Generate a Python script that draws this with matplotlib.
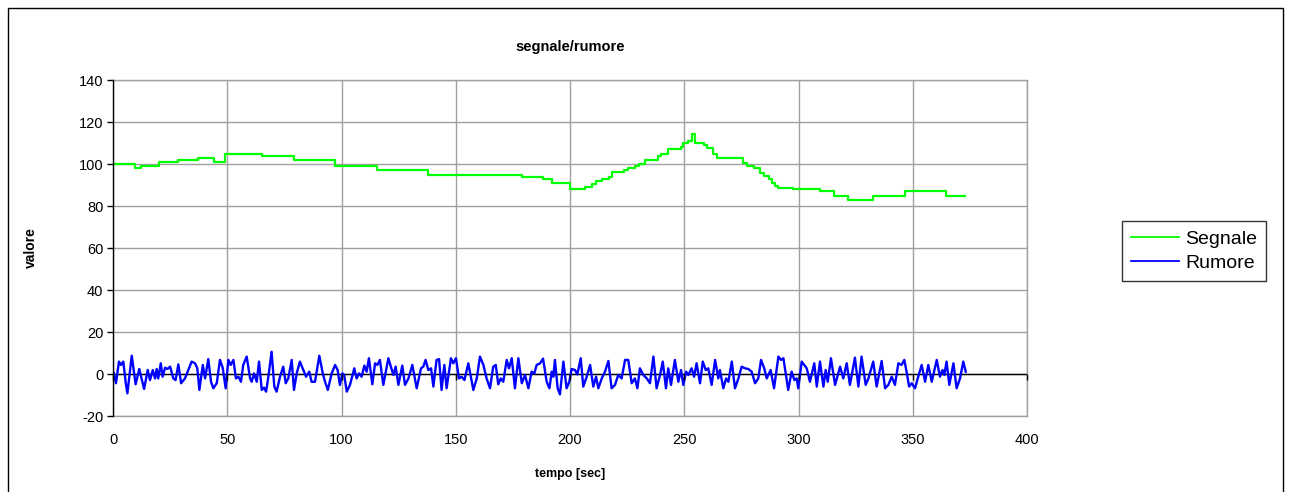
import matplotlib
matplotlib.use("Agg")
import matplotlib.pyplot as plt
from matplotlib.patches import Rectangle

plt.rcParams['font.family'] = ['Liberation Sans', 'DejaVu Sans']
plt.rcParams['axes.unicode_minus'] = False

# ---- data ----
title = "segnale/rumore"
xlabel = "tempo [sec]"
ylabel = "valore"
series_names = ["Segnale", "Rumore"]

sig_t = [0, 9.8, 12.3, 20, 28.3, 37.2, 44, 49, 65.2, 79,
         97.3, 115.5, 138, 178.8, 188.3, 192, 200, 206.6, 209.5, 211.5,
         214, 217, 218.5, 223.5, 225.5, 228.5, 230, 233, 238.5, 240,
         243, 248.5, 249.5, 251.5, 253.5, 254.5, 258.5, 260, 262.5, 264.5,
         275.5, 277.5, 280.5, 283, 285, 287, 288.5, 289.5, 291, 297.5,
         309.5, 315.5, 321.5, 332.5, 346.5, 364.5, 373]
sig_v = [100, 98, 99, 101, 102, 103, 101, 105, 104, 102,
         99, 97, 95, 94, 93, 91, 88, 89, 90.5, 92,
         93, 94, 96, 97, 98, 99, 100, 102, 104, 105,
         107, 108, 110, 111, 114.5, 110, 109, 107.5, 105, 103,
         100.5, 99, 98, 95.5, 94.5, 93, 91, 89.5, 88.7, 88,
         87, 85, 83, 85, 87, 85, 85]

noise_t = [0.4, 1.3, 2.6, 3.5, 4.5, 5.6, 6.3, 8.2, 9.9, 11.5,
           13.6, 15.2, 16.2, 17.4, 18.4, 19.1, 19.8, 20.9, 21.7, 22.8,
           23.8, 25.0, 26.4, 27.4, 28.6, 29.8, 31.5, 34.4, 35.9, 36.9,
           37.8, 39.3, 40.3, 41.7, 42.9, 43.9, 45.4, 46.8, 48.0, 49.3,
           50.5, 51.5, 52.7, 53.8, 54.9, 56.0, 57.0, 58.5, 60.0, 60.7,
           61.7, 62.9, 63.9, 65.1, 66.1, 67.0, 68.1, 69.4, 70.6, 71.6,
           73.1, 74.5, 75.6, 76.7, 78.2, 79.2, 80.4, 81.8, 83.3, 84.5,
           85.9, 86.9, 88.4, 90.3, 91.8, 92.8,
           94.0, 95.7, 97.2, 98.3, 99.3, 100.4, 101.2, 102.3, 103.7, 105.6,
           106.6, 107.7, 108.8, 110.0, 111.0, 112.0, 113.5, 114.7, 115.7, 116.8,
           118.3, 120.5, 122.7, 123.7, 124.9, 126.6, 127.8, 129.3, 131.0, 132.9,
           134.8, 135.8, 136.8, 138.0, 139.2, 140.2, 141.6, 142.7, 143.8, 145.0,
           146.0, 147.9, 148.9, 150.1, 151.4, 152.6, 153.8, 155.5, 157.7, 159.2,
           160.6, 162.1, 163.5, 165.0, 166.4, 167.5, 168.6, 169.7, 170.8, 172.3,
           173.3, 174.5, 175.9, 177.4, 178.9, 180.3, 181.8, 183.2, 184.4, 185.4,
           186.9,
           188.2, 189.8, 191.0, 192.0, 192.7, 193.4, 194.6, 195.6, 197.1, 198.5,
           199.7, 200.7, 202.2, 203.2, 204.7, 205.8, 207.3, 208.8, 210.2, 211.4,
           212.4, 213.9, 215.3, 216.8, 218.2, 219.7, 221.1, 222.6, 224.1, 225.5,
           227.0, 228.4, 229.5, 230.6, 232.1, 233.6, 235.0, 236.5, 237.9, 239.4,
           240.6, 242.0, 243.0, 244.2, 245.9, 247.4, 248.6, 249.6, 250.8, 251.8,
           253.2, 254.3, 255.4, 256.9, 258.1, 259.4, 260.5, 262.0, 263.5, 264.9,
           265.6, 267.1, 268.3, 269.3, 270.8, 272.2, 273.7, 275.1, 276.6, 278.0,
           279.5,
           281.0, 282.4, 283.6, 285.0, 286.1, 287.8, 289.3, 291.2, 292.3, 293.4,
           295.5, 297.0, 298.2, 299.2, 299.9, 301.4, 303.6, 305.0, 306.9, 308.0,
           309.4, 310.9, 311.9, 312.8, 314.2, 316.0, 318.2, 319.6, 321.1, 322.5,
           324.7, 326.2, 327.6, 329.4, 330.6, 332.7, 334.2, 336.4, 337.9, 339.3,
           340.8, 342.2, 343.7, 345.1, 346.3, 347.3, 348.4, 349.5, 351.0, 352.4,
           353.9, 355.4, 356.8, 358.3, 360.5, 361.9, 363.0, 363.8, 364.8, 366.0,
           367.8, 369.2, 370.7, 372.1, 373.2]
noise_v = [0.3, -4.4, 5.9, 4.3, 5.9, -4.4, -9.2, 8.7, -4.9, 2.4,
           -7.1, 1.9, -2.9, 1.9, -2.1, 2.4, -2.1, 5.1, -1.3, 3.0,
           2.4, 3.5, -2.1, -2.9, 4.6, -4.4, -2.1, 5.9, 5.1, 2.7,
           -7.6, 4.3, -2.1, 7.1, -3.7, -6.8, -4.4, 6.7, 3.0, -6.8,
           6.7, 4.3, 6.7, -2.1, -1.3, -3.7, 4.3, 8.3, -2.1, -3.7,
           0.3, -3.7, 5.9, -7.6, -6.5, -8.4, -0.5, 10.6, -6.0, -8.4,
           -1.3, 3.5, -4.4, -2.1, 6.7, -7.6, 0.3, 5.9, 1.9, -1.3,
           1.1, -3.7, -3.7, 8.7, 0.3, -3.7,
           -7.6, 0.3, 4.3, 1.9, -5.2, 0.3, -0.5, -8.4, -5.2, 2.7,
           -2.1, 0.3, -1.3, 4.0, 1.1, 7.5, -4.9, 5.1, 4.3, 6.7,
           -5.2, 7.5, -0.5, 3.5, -5.2, 4.0, -5.2, -2.1, 4.3, -6.8,
           2.7, 3.5, 6.7, 1.9, 2.7, -6.0, 6.7, 7.1, -7.6, 4.3,
           -6.8, 7.5, 5.1, 7.5, -2.1, -1.3, -2.9, 5.1, -7.6, -2.1,
           8.3, 4.3, -2.1, -6.8, 3.5, 4.3, -4.9, -2.1, -3.7, 6.7,
           2.7, 7.5, -6.8, 7.5, -4.4, -0.5, -6.8, 1.1, 0.3, 4.3,
           5.1,
           7.3, -3.7, -6.8, 1.1, -1.3, 6.7, -6.8, -9.7, 5.9, -6.8,
           -3.7, 2.4, 1.9, -0.2, 7.5, -6.0, -1.3, 4.3, -6.0, -1.3,
           -6.8, -2.1, 1.1, 6.2, -6.8, -5.2, -0.5, -2.1, 6.7, 6.7,
           -4.4, -2.1, -6.8, 2.7, -0.5, -2.1, -4.4, 8.3, -6.8, -0.5,
           5.9, -6.8, 2.7, -5.2, 6.7, -3.7, 1.9, -5.2, 1.1, -0.5,
           2.7, -1.3, 5.1, -4.4, 5.9, 1.9, 2.7, -5.2, 6.7, -2.1,
           1.9, -6.8, -2.1, -3.7, 5.9, -6.8, -2.1, 3.5, 2.7, 2.4,
           1.1,
           -4.4, -2.1, 6.7, 2.7, -2.1, 1.9, -6.8, 8.3, 6.7, 7.5,
           -7.6, 1.1, -2.9, -2.1, -6.8, 5.9, 2.7, -3.7, 5.1, -6.0,
           5.9, -6.0, 1.9, -3.7, 7.5, -5.2, 3.5, -2.1, 5.1, -5.2,
           7.8, -6.0, 8.3, -5.2, -2.1, 5.9, -6.0, 6.2, -6.8, -5.2,
           -1.3, -5.2, 5.1, 4.3, 6.7, 1.1, -6.0, -4.4, -6.8, -1.3,
           4.3, -3.7, 4.3, -3.7, 6.7, -1.3, 1.9, -0.5, 5.9, -5.2,
           5.1, -6.8, -2.1, 5.9, 1.1]

x_ticks = [0, 50, 100, 150, 200, 250, 300, 350, 400]
y_ticks = [-20, 0, 20, 40, 60, 80, 100, 120, 140]

# ---- figure ----
W, H = 1289, 492
fig = plt.figure(figsize=(W / 100, H / 100), dpi=100)
ax = fig.add_axes([113 / W, 1 - 416 / H, (1027 - 113) / W, (416 - 80) / H])

ax.plot(sig_t, sig_v, color='#00FF00', lw=1.6, drawstyle='steps-post',
        label=series_names[0], zorder=3)
ax.plot(noise_t, noise_v, color='#0000FF', lw=1.7, label=series_names[1],
        zorder=3, solid_joinstyle='round')

ax.set_xlim(0, 400)
ax.set_ylim(-20, 140)
ax.set_xticks(x_ticks)
ax.set_yticks(y_ticks)
ax.grid(True, color='#a0a0a0', lw=1)
ax.set_axisbelow(True)

for s in ['top', 'right', 'bottom']:
    ax.spines[s].set_color('#a0a0a0')
    ax.spines[s].set_linewidth(1)
ax.spines['left'].set_color('black')
ax.spines['left'].set_linewidth(1)
ax.spines['left'].set_zorder(5)

ax.tick_params(axis='x', length=0, pad=12, labelsize=10.5)
ax.tick_params(axis='y', length=4, width=1, direction='out', pad=3, labelsize=10.5)

# zero-crossing category axis (black line with tick marks)
ax.axhline(0, color='black', lw=1, zorder=2.5)
sec = ax.secondary_xaxis(20 / 160)
sec.set_xticks(x_ticks)
sec.set_xticklabels([])
sec.tick_params(axis='x', length=4, width=1, direction='out', color='black')
sec.spines['bottom'].set_visible(False)
sec.spines['top'].set_visible(False)
sec.set_zorder(4)

fig.text(570 / W, 1 - 47 / H, title, ha='center', va='center',
         fontsize=10.5, fontweight='bold')
fig.text(570 / W, 1 - 474 / H, xlabel, ha='center', va='center',
         fontsize=9, fontweight='bold')
fig.text(31 / W, 1 - 248 / H, ylabel, ha='center', va='center',
         fontsize=10, fontweight='bold', rotation=90)

leg = fig.legend(loc='center left', bbox_to_anchor=(1122 / W, 1 - 251 / H),
                 frameon=True, fancybox=False, shadow=False, fontsize=14,
                 handlelength=2.5, handletextpad=0.3, borderpad=0.45,
                 labelspacing=0.35, borderaxespad=0)
leg.get_frame().set_edgecolor('black')
leg.get_frame().set_linewidth(1)
for line in leg.get_lines():
    line.set_linewidth(1.3)

fig.patches.append(Rectangle((8 / W, -0.05), (1283 - 8) / W, 1.05 - 8 / H,
                             transform=fig.transFigure, fill=False,
                             edgecolor='black', lw=1))

fig.savefig('out.png', dpi=100)
